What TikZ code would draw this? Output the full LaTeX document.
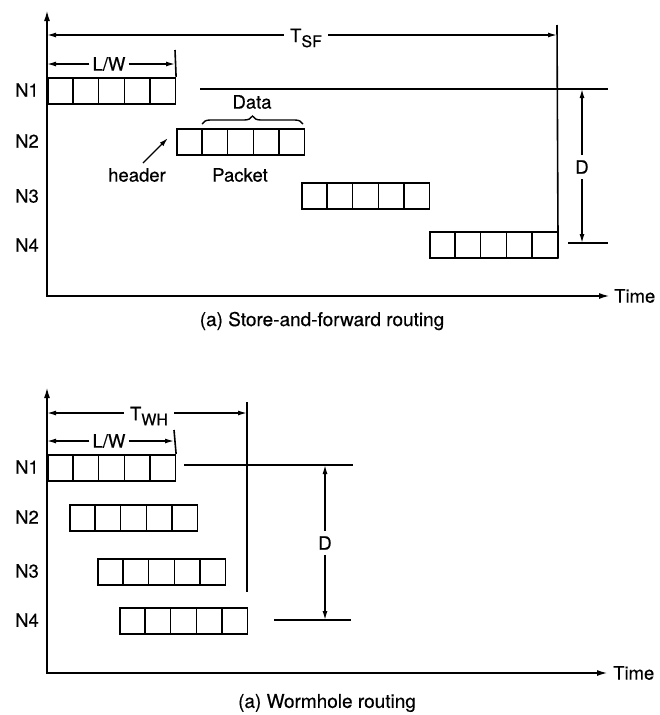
\documentclass[tikz,border=0pt]{standalone}
\usepackage{fontspec}
\setmainfont{TeX Gyre Heros}[FakeBold=0.4]
\usetikzlibrary{arrows.meta,decorations.pathreplacing,calc}
\newcommand\pkt[3]{%
  \node[packet] (#1) at (#2,#3) {};
  \foreach \i in {1,...,4}
    \draw[ln] ($(#1.north west)!\i/5!(#1.north east)$) -- ($(#1.south west)!\i/5!(#1.south east)$);
}
\begin{document}
\begin{tikzpicture}[x=1pt,y=-1pt,
  ln/.style={line width=1.6pt},
  axis/.style={line width=1.9pt,{Latex[length=11pt,width=6pt]}-{Latex[length=11pt,width=6pt]}},
  dim/.style={line width=1.4pt,-{Latex[length=9pt,width=5pt]}},
  packet/.style={draw,line width=1.6pt,minimum width=127.5pt,minimum height=26pt,inner sep=0pt,anchor=north west},
  lbl/.style={font=\fontsize{18.5}{20}\selectfont,inner sep=3pt},
  sublbl/.style={font=\fontsize{18.5}{20}\selectfont,inner sep=6pt},
  captext/.style={font=\fontsize{19}{22}\selectfont,inner sep=0pt}]
\useasboundingbox (0,0) rectangle (659,715);

% ---------- top: store-and-forward ----------
\coordinate (yt1) at (47,10);
\coordinate (o1) at (47,296);
\coordinate (xt1) at (610,296);
\draw[axis] (yt1) -- (o1) -- (xt1);
\node[lbl,anchor=west] (time1) at (611,296) {Time};

\node[lbl] (n11) at (27,90) {N1};
\node[lbl] (n12) at (27,141) {N2};
\node[lbl] (n13) at (27,196) {N3};
\node[lbl] (n14) at (27,245) {N4};

\pkt{A1}{47}{77}
\pkt{A2}{176}{128}
\pkt{A3}{301}{182}
\pkt{A4}{429}{231}

% T_SF
\coordinate (tsfL) at (47,35);
\coordinate (tsfTop) at (557,25);
\coordinate (tsfR) at (557,35);
\node[sublbl] (TSF) at (306,38) {T\raisebox{-5pt}{\fontsize{16}{16}\selectfont SF}};
\draw[ln] (tsfTop) -- (A4.south east);
\draw[dim] (TSF.west |- tsfL) -- (tsfL);
\draw[dim] (TSF.east |- tsfR) -- (tsfR);

% L/W
\coordinate (lw1L) at (47,64);
\coordinate (lw1R) at (175,64);
\coordinate (lw1Top) at (175,50);
\draw[ln] (lw1Top) -- (A1.north east);
\node[lbl] (LW1) at (109,64) {L/W};
\draw[dim] (LW1.west) -- (lw1L);
\draw[dim] (LW1.east) -- (lw1R);

% N1 level line and D
\coordinate (l1a) at (200,89);
\coordinate (l1b) at (608,89);
\draw[ln] (l1a) -- (l1b);
\coordinate (d1top) at (582,89);
\coordinate (d1bot) at (582,243);
\coordinate (t1a) at (568,243);
\coordinate (t1b) at (608,243);
\draw[ln] (t1a) -- (t1b);
\node[lbl,inner sep=5pt] (D1) at (582,167) {D};
\draw[dim] (D1.north) -- (d1top);
\draw[dim] (D1.south) -- (d1bot);

% Data brace, header, packet
\coordinate (brL) at (202,124);
\coordinate (brR) at (303,124);
\draw[line width=1.4pt,decorate,decoration={brace,amplitude=8pt}] (brL) -- (brR);
\node[lbl] (data) at (252,102) {Data};
\node[lbl] (packet) at (240,175) {Packet};
\node[lbl] (header) at (137,175) {header};
\coordinate (htail) at (143,163);
\coordinate (hhead) at (168,138);
\draw[dim] (htail) -- (hhead);

\node[captext] (cap1) at (322,321) {(a) Store-and-forward routing};

% ---------- bottom: wormhole ----------
\coordinate (yt2) at (47,387);
\coordinate (o2) at (47,673);
\coordinate (xt2) at (608,673);
\draw[axis] (yt2) -- (o2) -- (xt2);
\node[lbl,anchor=west] (time2) at (610,673) {Time};

\node[lbl] (n21) at (27,467) {N1};
\node[lbl] (n22) at (27,517) {N2};
\node[lbl] (n23) at (27,571) {N3};
\node[lbl] (n24) at (27,620) {N4};

\pkt{B1}{47}{454}
\pkt{B2}{69}{504}
\pkt{B3}{97}{558}
\pkt{B4}{119}{607}

% T_WH
\coordinate (twhL) at (47,413);
\coordinate (twhR) at (247,413);
\coordinate (twhTop) at (247,402);
\coordinate (twhBot) at (247,592);
\draw[ln] (twhTop) -- (twhBot);
\node[sublbl] (TWH) at (149,416) {T\raisebox{-5pt}{\fontsize{16}{16}\selectfont WH}};
\draw[dim] (TWH.west |- twhL) -- (twhL);
\draw[dim] (TWH.east |- twhR) -- (twhR);

% L/W
\coordinate (lw2L) at (47,441);
\coordinate (lw2R) at (174,441);
\coordinate (lw2Top) at (174,430);
\draw[ln] (lw2Top) -- (B1.north east);
\node[lbl] (LW2) at (109,441) {L/W};
\draw[dim] (LW2.west) -- (lw2L);
\draw[dim] (LW2.east) -- (lw2R);

% N1 level line and D
\coordinate (l2a) at (184,465);
\coordinate (l2b) at (353,465);
\draw[ln] (l2a) -- (l2b);
\coordinate (d2top) at (325,465);
\coordinate (d2bot) at (325,620);
\coordinate (t2a) at (274,620);
\coordinate (t2b) at (351,620);
\draw[ln] (t2a) -- (t2b);
\node[lbl,inner sep=5pt] (D2) at (325,543) {D};
\draw[dim] (D2.north) -- (d2top);
\draw[dim] (D2.south) -- (d2bot);

\node[captext] (cap2) at (327,703) {(a) Wormhole routing};
\end{tikzpicture}
\end{document}
